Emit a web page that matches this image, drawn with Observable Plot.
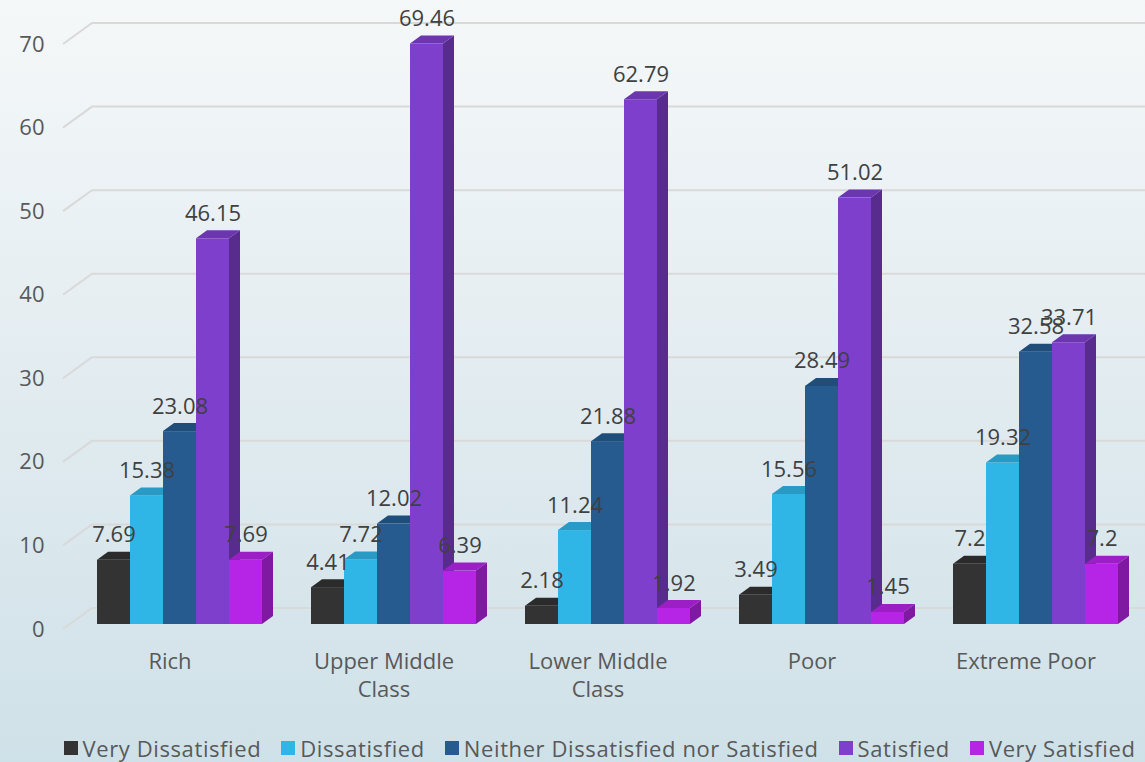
<!DOCTYPE html>
<html>
<head>
<meta charset="utf-8">
<script src="https://cdn.jsdelivr.net/npm/d3@7"></script>
<script src="https://cdn.jsdelivr.net/npm/@observablehq/plot@0.6"></script>
<style>
  body { margin: 0; }
  #wrap {
    position: relative; width: 1145px; height: 762px; overflow: hidden;
    background: linear-gradient(to bottom, #f5f8f9 0%, #e4edf1 45%, #cfe1e8 100%);
    font-family: "Open Sans", sans-serif;
  }
  #chart { position: absolute; left: 0; top: 0; }
  #legend {
    position: absolute; left: 27px; top: 733px; width: 1145px; height: 30px;
    display: flex; justify-content: center; align-items: center;
    font-size: 22px; letter-spacing: 0.6px; color: #595959; white-space: nowrap;
  }
  #legend .item { display: flex; align-items: center; margin: 0 10px; }
  #legend .sw { width: 14px; height: 14px; margin-right: 5px; }
</style>
</head>
<body>
<div id="wrap"><div id="chart"></div><div id="legend"></div></div>
<script>
// ---- data ----
const groups = ["Rich", "Upper Middle Class", "Lower Middle Class", "Poor", "Extreme Poor"];
const groupLabels = ["Rich", "Upper Middle\nClass", "Lower Middle\nClass", "Poor", "Extreme Poor"];
const series = ["Very Dissatisfied", "Dissatisfied", "Neither Dissatisfied nor Satisfied", "Satisfied", "Very Satisfied"];
const veryDissatisfied = [7.69, 4.41, 2.18, 3.49, 7.2];
const dissatisfied = [15.38, 7.72, 11.24, 15.56, 19.32];
const neither = [23.08, 12.02, 21.88, 28.49, 32.58];
const satisfied = [46.15, 69.46, 62.79, 51.02, 33.71];
const verySatisfied = [7.69, 6.39, 1.92, 1.45, 7.2];
const yTicks = [0, 10, 20, 30, 40, 50, 60, 70];
const colors = ["#333333", "#2fb5e6", "#265b8f", "#7e3fcc", "#b624e6"];

const seriesValues = [veryDissatisfied, dissatisfied, neither, satisfied, verySatisfied];
const data = series.flatMap((s, j) => groups.map((g, i) => ({group: g, series: s, j, value: seriesValues[j][i]})));

// ---- layout / style ----
const W = 1145, H = 730;
const nS = series.length;
const barW = 33;          // width of one bar within a group (px)
const DX = 11, DY = -8;   // 3D depth offset of bars
const GX = 29, GY = -21;  // 3D depth offset of gridlines (front -> back wall)
const BACK = -16;         // back wall offset from bar front plane

function gridMark(index, scales, values, dims) {
  const sy = scales.y;
  const g = d3.create("svg:g");
  const x0 = dims.marginLeft - GX;
  for (const v of yTicks) {
    const yb = sy(v) + BACK;
    g.append("path")
      .attr("d", `M${x0},${yb - GY}L${dims.marginLeft},${yb}L${dims.width},${yb}`)
      .attr("fill", "none").attr("stroke", "#d9d9d9").attr("stroke-width", 2);
  }
  return g.node();
}

function depthMark(j) {
  return function(index, scales, values, dims) {
    const sx = scales.x, sy = scales.y;
    const g = d3.create("svg:g");
    const base = d3.color(colors[j]);
    const top = base.darker(0.45).formatHex();
    const side = base.darker(1.0).formatHex();
    groups.forEach((grp, i) => {
      const v = seriesValues[j][i];
      const x0 = sx(grp) + j * barW, x1 = x0 + barW;
      const yt = sy(v), yb = sy(0);
      g.append("path")
        .attr("d", `M${x0},${yt}L${x0 + DX},${yt + DY}L${x1 + DX},${yt + DY}L${x1},${yt}Z`)
        .attr("fill", top);
      g.append("path")
        .attr("d", `M${x1},${yt}L${x1 + DX},${yt + DY}L${x1 + DX},${yb + DY}L${x1},${yb}Z`)
        .attr("fill", side);
    });
    return g.node();
  };
}

const barMarks = series.flatMap((s, j) => [
  Plot.barY(data.filter(d => d.j === j), {
    x: "group", y: "value", fill: colors[j],
    insetLeft: j * barW, insetRight: (nS - 1 - j) * barW
  }),
  depthMark(j)
]);

const chart = Plot.plot({
  width: W, height: H,
  marginLeft: 92, marginRight: 0, marginTop: 39, marginBottom: 106,
  style: {fontFamily: "'Open Sans', sans-serif", fontSize: "22px", color: "#595959", background: "transparent", overflow: "visible"},
  x: {type: "band", domain: groups, range: [97, 97 + 214 * 5 - 49], paddingInner: 0.229, paddingOuter: 0, align: 0},
  y: {domain: [0, 70]},
  marks: [
    gridMark,
    Plot.axisY({ticks: yTicks, tickSize: 0, tickPadding: 48, dy: 5, fontSize: 22, label: null}),
    Plot.axisX({tickSize: 0, tickPadding: 24, dx: -10, fontSize: 22, lineHeight: 1.3, label: null,
      tickFormat: d => groupLabels[groups.indexOf(d)]}),
    ...barMarks,
    ...series.map((s, j) => Plot.text(data.filter(d => d.j === j), {
      x: "group", y: "value", text: d => String(d.value),
      dx: (j - (nS - 1) / 2) * barW, dy: -25, fill: "#404040", fontSize: 22
    }))
  ]
});
document.getElementById("chart").appendChild(chart);

// ---- legend ----
const legend = document.getElementById("legend");
series.forEach((s, j) => {
  const it = document.createElement("div");
  it.className = "item";
  const sw = document.createElement("span");
  sw.className = "sw";
  sw.style.background = colors[j];
  const tx = document.createElement("span");
  tx.textContent = s;
  it.appendChild(sw); it.appendChild(tx);
  legend.appendChild(it);
});
</script>
</body>
</html>
